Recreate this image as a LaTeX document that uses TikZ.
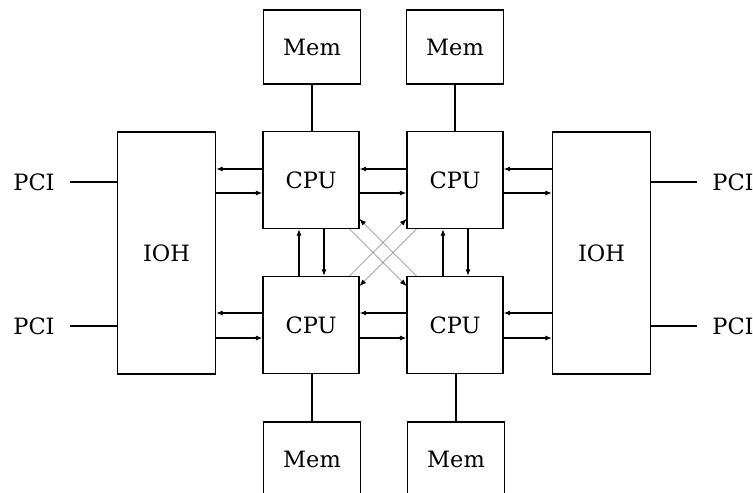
\documentclass[tikz,border=0pt]{standalone}
\usepackage{fontspec}
\setmainfont{DejaVu Serif}
\usetikzlibrary{arrows.meta,calc}
\begin{document}
\begin{tikzpicture}[x=1pt,y=-1pt,
  lbl/.style={font=\fontsize{22.5}{27}\selectfont,inner sep=0pt},
  box/.style={draw,line width=1.1pt,inner sep=0pt,font=\fontsize{22.5}{27}\selectfont},
  cpubox/.style={box,minimum width=96pt,minimum height=97pt},
  membox/.style={box,minimum width=97pt,minimum height=74pt},
  iohbox/.style={box,minimum width=98pt,minimum height=242pt},
  ln/.style={line width=1.1pt},
  arr/.style={line width=1.1pt,-{Latex[length=6.5pt,width=5pt]}},
  xarr/.style={line width=0.6pt,draw=gray,-{Latex[length=6.5pt,width=5pt,color=black]}}
]
\useasboundingbox (0,0) rectangle (753,493);
\clip (0,0) rectangle (753,493);
% boxes
\node[membox] (mTL) at (312,47) {Mem};
\node[membox] (mTR) at (455,47) {Mem};
\node[cpubox] (cTL) at (311,180) {CPU};
\node[cpubox] (cTR) at (455,180) {CPU};
\node[cpubox] (cBL) at (311,325) {CPU};
\node[cpubox] (cBR) at (455,325) {CPU};
\node[membox] (mBL) at (312,459) {Mem};
\node[membox] (mBR) at (456,459) {Mem};
\node[iohbox] (iL) at (166.5,253) {IOH};
\node[iohbox] (iR) at (601.5,253) {IOH};
% PCI labels
\node[lbl] (p1) at (34,182) {PCI};
\node[lbl] (p2) at (34,326) {PCI};
\node[lbl] (p3) at (733,182) {PCI};
\node[lbl] (p4) at (733,326) {PCI};
\draw[ln] (p1.east -| 70,0) -- (p1.east -| iL.west);
\draw[ln] (p2.east -| 70,0) -- (p2.east -| iL.west);
\draw[ln] (p3.west -| 697,0) -- (p3.west -| iR.east);
\draw[ln] (p4.west -| 697,0) -- (p4.west -| iR.east);
% memory links
\draw[ln] (mTL.south) -- (mTL.south |- cTL.north);
\draw[ln] (mTR.south) -- (mTR.south |- cTR.north);
\draw[ln] (mBL.north) -- (mBL.north |- cBL.south);
\draw[ln] (mBR.north) -- (mBR.north |- cBR.south);
% horizontal links, top row
\draw[arr] ([yshift=11pt]cTL.west) -- ([yshift=11pt]cTL.west -| iL.east);
\draw[arr] ([yshift=-13pt]cTL.west -| iL.east) -- ([yshift=-13pt]cTL.west);
\draw[arr] ([yshift=11pt]cTR.west) -- ([yshift=11pt]cTL.east);
\draw[arr] ([yshift=-13pt]cTL.east) -- ([yshift=-13pt]cTR.west);
\draw[arr] ([yshift=11pt]cTR.east -| iR.west) -- ([yshift=11pt]cTR.east);
\draw[arr] ([yshift=-13pt]cTR.east) -- ([yshift=-13pt]cTR.east -| iR.west);
% horizontal links, bottom row
\draw[arr] ([yshift=12pt]cBL.west) -- ([yshift=12pt]cBL.west -| iL.east);
\draw[arr] ([yshift=-13pt]cBL.west -| iL.east) -- ([yshift=-13pt]cBL.west);
\draw[arr] ([yshift=12pt]cBR.west) -- ([yshift=12pt]cBL.east);
\draw[arr] ([yshift=-13pt]cBL.east) -- ([yshift=-13pt]cBR.west);
\draw[arr] ([yshift=12pt]cBR.east -| iR.west) -- ([yshift=12pt]cBR.east);
\draw[arr] ([yshift=-13pt]cBR.east) -- ([yshift=-13pt]cBR.east -| iR.west);
% vertical links
\draw[arr] ([xshift=-12pt]cBL.north) -- ([xshift=-12pt]cTL.south);
\draw[arr] ([xshift=13pt]cTL.south) -- ([xshift=13pt]cBL.north);
\draw[arr] ([xshift=-12pt]cBR.north) -- ([xshift=-12pt]cTR.south);
\draw[arr] ([xshift=13pt]cTR.south) -- ([xshift=13pt]cBR.north);
% diagonal links
\draw[xarr] ([xshift=10pt]cBR.north west) -- ([yshift=10pt]cTL.south east);
\draw[xarr] ([xshift=-10pt]cTL.south east) -- ([yshift=-10pt]cBR.north west);
\draw[xarr] ([xshift=-10pt]cBL.north east) -- ([yshift=10pt]cTR.south west);
\draw[xarr] ([xshift=10pt]cTR.south west) -- ([yshift=-10pt]cBL.north east);
\end{tikzpicture}
\end{document}
